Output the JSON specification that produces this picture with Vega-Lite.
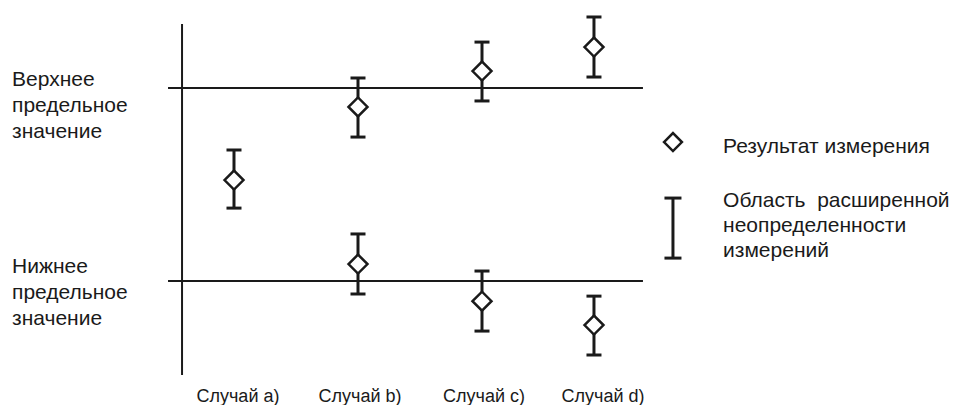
{
  "$schema": "https://vega.github.io/schema/vega-lite/v6.json",
  "width": 964,
  "height": 405,
  "padding": 0,
  "autosize": {"type": "none"},
  "background": "white",
  "config": {"view": {"stroke": null}, "text": {"font": "Liberation Sans", "color": "#1a1a1a"}},
  "datasets": {
    "measurements": [
      {"case": "a", "pos": 1.0, "value": 5.23, "low": 3.78, "high": 6.79},
      {"case": "b", "pos": 2.0, "value": 9.02, "low": 7.46, "high": 10.52},
      {"case": "b", "pos": 2.0, "value": 0.88, "low": -0.67, "high": 2.44},
      {"case": "c", "pos": 3.0, "value": 10.88, "low": 9.33, "high": 12.38},
      {"case": "c", "pos": 3.0, "value": -1.04, "low": -2.59, "high": 0.52},
      {"case": "d", "pos": 3.903, "value": 12.12, "low": 10.57, "high": 13.68},
      {"case": "d", "pos": 3.903, "value": -2.28, "low": -3.83, "high": -0.78}
    ],
    "limits": [
      {"limit": "upper", "value": 10, "from": 0.468, "to": 4.298},
      {"limit": "lower", "value": 0, "from": 0.468, "to": 4.298}
    ],
    "axis": [{"pos": 0.581, "from": -4.87, "to": 13.32}],
    "limitLabels": [
      {"text": "Верхнее", "x": -0.79, "y": 10.1},
      {"text": "предельное", "x": -0.79, "y": 8.76},
      {"text": "значение", "x": -0.79, "y": 7.41},
      {"text": "Нижнее", "x": -0.79, "y": 0.41},
      {"text": "предельное", "x": -0.79, "y": -0.93},
      {"text": "значение", "x": -0.79, "y": -2.28}
    ],
    "caseLabels": [
      {"text": "Случай a)", "x": 1.032, "y": -6.27},
      {"text": "Случай b)", "x": 2.016, "y": -6.27},
      {"text": "Случай c)", "x": 3.016, "y": -6.27},
      {"text": "Случай d)", "x": 3.976, "y": -6.27}
    ],
    "legendSymbol": [{"pos": 4.54, "value": 7.2}],
    "legendBar": [{"pos": 4.54, "low": 1.19, "high": 4.3}],
    "legendLabels": [
      {"text": "Результат измерения", "x": 4.944, "y": 6.63},
      {"text": "Область\u00a0 расширенной", "x": 4.944, "y": 3.83},
      {"text": "неопределенности", "x": 4.944, "y": 2.54},
      {"text": "измерений", "x": 4.944, "y": 1.24}
    ]
  },
  "layer": [
    {
      "data": {"name": "axis"},
      "mark": {"type": "rule", "color": "#1a1a1a", "strokeWidth": 2},
      "encoding": {
        "x": {"field": "pos", "type": "quantitative", "scale": {"domain": [-0.887, 6.887], "nice": false, "zero": false}, "axis": null},
        "y": {"field": "from", "type": "quantitative", "scale": {"domain": [-6.42, 14.56], "nice": false, "zero": false}, "axis": null},
        "y2": {"field": "to"}
      }
    },
    {
      "data": {"name": "limits"},
      "mark": {"type": "rule", "color": "#1a1a1a", "strokeWidth": 2},
      "encoding": {
        "x": {"field": "from", "type": "quantitative"},
        "x2": {"field": "to"},
        "y": {"field": "value", "type": "quantitative"}
      }
    },
    {
      "data": {"name": "measurements"},
      "mark": {"type": "rule", "color": "#1a1a1a", "strokeWidth": 3},
      "encoding": {
        "x": {"field": "pos", "type": "quantitative"},
        "y": {"field": "low", "type": "quantitative"},
        "y2": {"field": "high"}
      }
    },
    {
      "data": {"name": "measurements"},
      "mark": {"type": "tick", "orient": "horizontal", "size": 15, "thickness": 3, "color": "#1a1a1a", "opacity": 1},
      "encoding": {
        "x": {"field": "pos", "type": "quantitative"},
        "y": {"field": "low", "type": "quantitative"}
      }
    },
    {
      "data": {"name": "measurements"},
      "mark": {"type": "tick", "orient": "horizontal", "size": 15, "thickness": 3, "color": "#1a1a1a", "opacity": 1},
      "encoding": {
        "x": {"field": "pos", "type": "quantitative"},
        "y": {"field": "high", "type": "quantitative"}
      }
    },
    {
      "data": {"name": "measurements"},
      "mark": {"type": "point", "shape": "diamond", "size": 360, "filled": true, "fill": "white", "stroke": "#1a1a1a", "strokeWidth": 2.5, "opacity": 1},
      "encoding": {
        "x": {"field": "pos", "type": "quantitative"},
        "y": {"field": "value", "type": "quantitative"}
      }
    },
    {
      "data": {"name": "legendBar"},
      "mark": {"type": "rule", "color": "#1a1a1a", "strokeWidth": 3},
      "encoding": {
        "x": {"field": "pos", "type": "quantitative"},
        "y": {"field": "low", "type": "quantitative"},
        "y2": {"field": "high"}
      }
    },
    {
      "data": {"name": "legendBar"},
      "mark": {"type": "tick", "orient": "horizontal", "size": 17, "thickness": 3, "color": "#1a1a1a", "opacity": 1},
      "encoding": {
        "x": {"field": "pos", "type": "quantitative"},
        "y": {"field": "low", "type": "quantitative"}
      }
    },
    {
      "data": {"name": "legendBar"},
      "mark": {"type": "tick", "orient": "horizontal", "size": 17, "thickness": 3, "color": "#1a1a1a", "opacity": 1},
      "encoding": {
        "x": {"field": "pos", "type": "quantitative"},
        "y": {"field": "high", "type": "quantitative"}
      }
    },
    {
      "data": {"name": "legendSymbol"},
      "mark": {"type": "point", "shape": "diamond", "size": 320, "filled": true, "fill": "white", "stroke": "#1a1a1a", "strokeWidth": 2.5, "opacity": 1},
      "encoding": {
        "x": {"field": "pos", "type": "quantitative"},
        "y": {"field": "value", "type": "quantitative"}
      }
    },
    {
      "data": {"name": "limitLabels"},
      "mark": {"type": "text", "align": "left", "baseline": "alphabetic", "fontSize": 21},
      "encoding": {
        "x": {"field": "x", "type": "quantitative"},
        "y": {"field": "y", "type": "quantitative"},
        "text": {"field": "text"}
      }
    },
    {
      "data": {"name": "caseLabels"},
      "mark": {"type": "text", "align": "center", "baseline": "alphabetic", "fontSize": 18},
      "encoding": {
        "x": {"field": "x", "type": "quantitative"},
        "y": {"field": "y", "type": "quantitative"},
        "text": {"field": "text"}
      }
    },
    {
      "data": {"name": "legendLabels"},
      "mark": {"type": "text", "align": "left", "baseline": "alphabetic", "fontSize": 21},
      "encoding": {
        "x": {"field": "x", "type": "quantitative"},
        "y": {"field": "y", "type": "quantitative"},
        "text": {"field": "text"}
      }
    }
  ]
}
